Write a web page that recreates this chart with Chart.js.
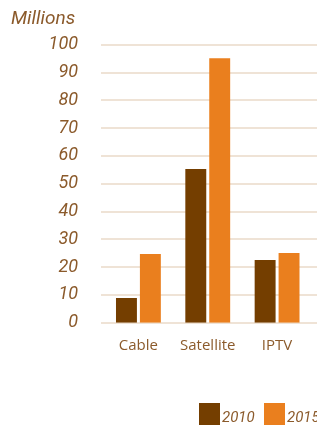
<!DOCTYPE html>
<html>
<head>
<meta charset="utf-8">
<script src="https://cdn.jsdelivr.net/npm/chart.js@4/dist/chart.umd.min.js"></script>
<style>
html,body{margin:0;padding:0;background:#fff;overflow:hidden;}
#wrap{position:relative;width:317px;height:426px;overflow:hidden;}
#c{position:absolute;left:0;top:0;}
#legend{position:absolute;left:0;top:0;width:317px;height:426px;pointer-events:none;}
.lg-box{position:absolute;width:21px;height:22px;top:403px;}
.lg-txt{position:absolute;top:408px;font:italic 15px Roboto, sans-serif;color:#8b5a2b;white-space:nowrap;line-height:18px;}
</style>
</head>
<body>
<div id="wrap">
<canvas id="c" width="317" height="426"></canvas>
<div id="legend"></div>
</div>
<script>
const categories = ["Cable", "Satellite", "IPTV"];
const seriesNames = ["2010", "2015"];
const values2010 = [8.9, 55.3, 22.6];
const values2015 = [24.7, 95.2, 25.1];
const yTicks = [0, 10, 20, 30, 40, 50, 60, 70, 80, 90, 100];
const unitLabel = "Millions";

const colors = ["#743e00", "#ea7f1e"];
const textColor = "#8b5a2b";

const gridPlugin = {
  id: 'customGrid',
  beforeDatasetsDraw(chart) {
    const y = chart.scales.y;
    const ctx = chart.ctx;
    ctx.save();
    ctx.strokeStyle = '#efe3d6';
    ctx.lineWidth = 2;
    yTicks.forEach(v => {
      const py = Math.round(y.getPixelForValue(v));
      ctx.beginPath();
      ctx.moveTo(101, py);
      ctx.lineTo(chart.width, py);
      ctx.stroke();
    });
    ctx.restore();
  }
};

const chart = new Chart(document.getElementById('c'), {
  type: 'bar',
  data: {
    labels: categories,
    datasets: [
      { label: seriesNames[0], data: values2010, backgroundColor: colors[0], borderWidth: 0 },
      { label: seriesNames[1], data: values2015, backgroundColor: colors[1], borderWidth: 0 }
    ]
  },
  options: {
    responsive: false,
    animation: false,
    devicePixelRatio: 1,
    layout: { padding: { left: 11, right: 5.25, top: 0, bottom: 0 } },
    categoryPercentage: 0.69,
    barPercentage: 0.875,
    plugins: {
      legend: { display: false },
      tooltip: { enabled: false },
      title: {
        display: true,
        text: unitLabel,
        align: 'start',
        color: textColor,
        font: { family: 'Roboto', size: 19, style: 'italic', weight: 'normal', lineHeight: 1.2 },
        padding: { top: 8, bottom: 14 }
      }
    },
    scales: {
      x: {
        grid: { display: false, drawTicks: false },
        border: { display: false },
        ticks: {
          color: textColor,
          font: { family: 'Open Sans', size: 15 },
          padding: 14,
          maxRotation: 0
        },
        afterFit(scale) { scale.height = 103.3; }
      },
      y: {
        min: 0,
        max: 100,
        afterBuildTicks(scale) { scale.ticks = yTicks.map(v => ({ value: v })); },
        grid: { display: false, drawTicks: false },
        border: { display: false },
        ticks: {
          color: textColor,
          font: { family: 'Roboto', size: 18, style: 'italic' },
          padding: 25.75
        },
        afterFit(scale) { scale.width = 92.75; }
      }
    }
  },
  plugins: [gridPlugin]
});

// HTML legend built from series names
const legend = document.getElementById('legend');
const legendX = [199, 264];
seriesNames.forEach((name, i) => {
  const b = document.createElement('div');
  b.className = 'lg-box';
  b.style.left = legendX[i] + 'px';
  b.style.background = colors[i];
  legend.appendChild(b);
  const t = document.createElement('div');
  t.className = 'lg-txt';
  t.style.left = (legendX[i] + 23) + 'px';
  t.textContent = name;
  legend.appendChild(t);
});
</script>
</body>
</html>
